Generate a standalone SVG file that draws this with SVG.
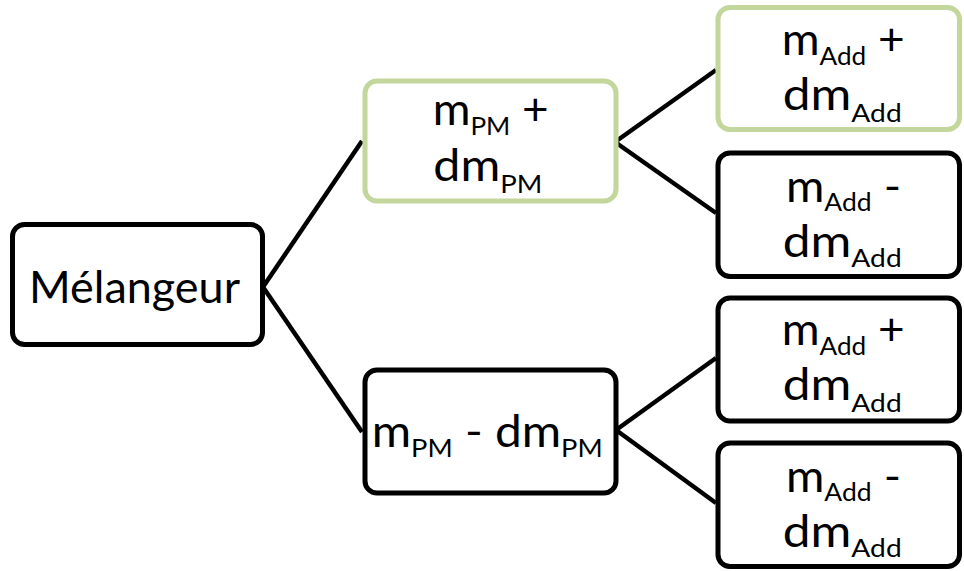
<svg xmlns="http://www.w3.org/2000/svg" width="964" height="571" viewBox="0 0 964 571">
<style>
.box{fill:#fff;stroke:#000;stroke-width:5}
.green{stroke:#c3d69b}
.t{font-family:Lato,"Open Sans","Liberation Sans",sans-serif;font-size:44px;fill:#000}
.s{font-size:25px}
.c{stroke:#000;stroke-width:4.5;fill:none}
</style>
<rect width="964" height="571" fill="#fff"/>
<g id="connectors">
<line class="c" x1="263" y1="287" x2="362" y2="141"/>
<line class="c" x1="263" y1="287" x2="362" y2="432"/>
<line class="c" x1="615" y1="142" x2="716" y2="70"/>
<line class="c" x1="615" y1="142" x2="716" y2="213"/>
<line class="c" x1="616" y1="430" x2="716" y2="358"/>
<line class="c" x1="616" y1="430" x2="716" y2="503"/>
</g>
<g id="root">
<rect class="box" x="12.5" y="224.5" width="250" height="120" rx="12"/>
<text class="t" x="29" y="302.5" textLength="211" lengthAdjust="spacingAndGlyphs">Mélangeur</text>
</g>
<g id="mid-plus">
<rect class="box green" x="365" y="81" width="251" height="120" rx="12"/>
<text class="t" x="432.7" y="125" textLength="116" lengthAdjust="spacingAndGlyphs">m<tspan class="s" dy="10">PM</tspan><tspan dy="-10"> +</tspan></text>
<text class="t" x="433.3" y="181" textLength="109" lengthAdjust="spacingAndGlyphs">dm<tspan class="s" dy="12">PM</tspan></text>
</g>
<g id="mid-minus">
<rect class="box" x="365" y="370" width="251" height="123" rx="12"/>
<text class="t" x="371.7" y="447" textLength="231" lengthAdjust="spacingAndGlyphs">m<tspan class="s" dy="10">PM</tspan><tspan dy="-10"> - dm</tspan><tspan class="s" dy="10">PM</tspan></text>
</g>
<g id="leaf1">
<rect class="box green" x="718" y="7.5" width="241.5" height="122" rx="12"/>
<text class="t" x="781.7" y="55" textLength="123" lengthAdjust="spacingAndGlyphs">m<tspan class="s" dy="10">Add</tspan><tspan dy="-10"> +</tspan></text>
<text class="t" x="782.7" y="110" textLength="119" lengthAdjust="spacingAndGlyphs">dm<tspan class="s" dy="11.5">Add</tspan></text>
</g>
<g id="leaf2">
<rect class="box" x="718" y="153" width="241.5" height="123.5" rx="12"/>
<text class="t" x="786" y="201.7" textLength="115" lengthAdjust="spacingAndGlyphs">m<tspan class="s" dy="9">Add</tspan><tspan dy="-9"> -</tspan></text>
<text class="t" x="782.7" y="256.7" textLength="119" lengthAdjust="spacingAndGlyphs">dm<tspan class="s" dy="10">Add</tspan></text>
</g>
<g id="leaf3">
<rect class="box" x="718" y="298" width="241.5" height="123" rx="12"/>
<text class="t" x="781.7" y="345" textLength="123" lengthAdjust="spacingAndGlyphs">m<tspan class="s" dy="10">Add</tspan><tspan dy="-10"> +</tspan></text>
<text class="t" x="782.7" y="400" textLength="119" lengthAdjust="spacingAndGlyphs">dm<tspan class="s" dy="11.5">Add</tspan></text>
</g>
<g id="leaf4">
<rect class="box" x="718" y="443" width="241.5" height="123.5" rx="12"/>
<text class="t" x="786" y="491.7" textLength="115" lengthAdjust="spacingAndGlyphs">m<tspan class="s" dy="9">Add</tspan><tspan dy="-9"> -</tspan></text>
<text class="t" x="782.7" y="546.7" textLength="119" lengthAdjust="spacingAndGlyphs">dm<tspan class="s" dy="10">Add</tspan></text>
</g>
</svg>
